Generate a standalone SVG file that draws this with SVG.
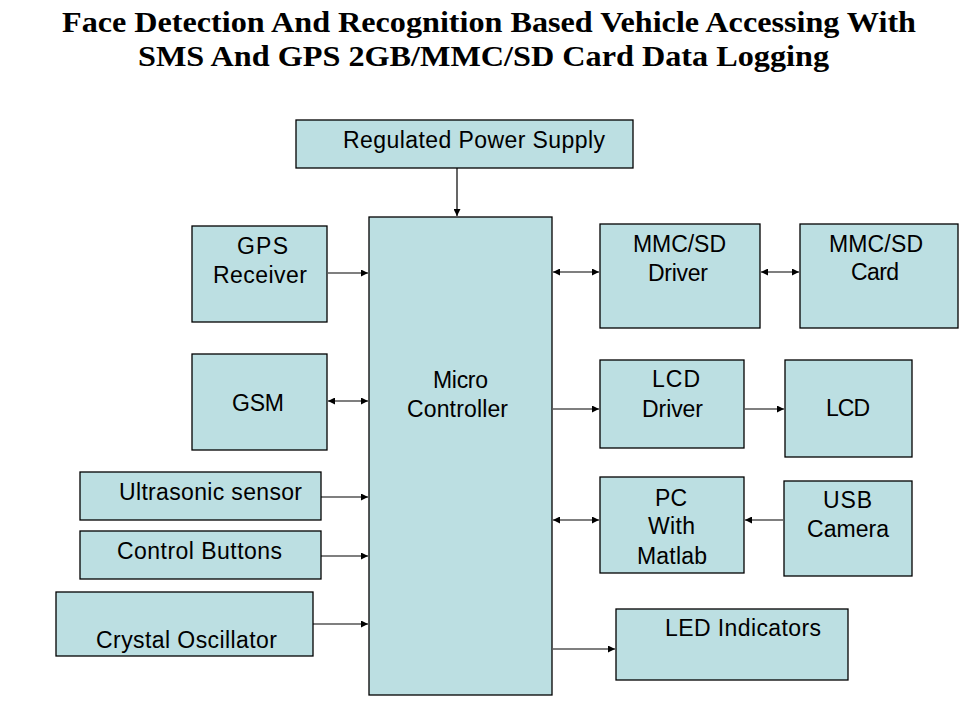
<svg xmlns="http://www.w3.org/2000/svg" width="960" height="720" viewBox="0 0 960 720">
<defs>
<style>
.box{fill:#BCDFE2;stroke:#000;stroke-width:1.3}
.t{font-family:"Liberation Sans",Arial,sans-serif;font-size:23px;fill:#000}
.title{font-family:"Liberation Serif","Times New Roman",serif;font-weight:bold;font-size:30px;fill:#000}
.c{stroke:#000;stroke-width:1.2;fill:none}
</style>
<marker id="ah" viewBox="0 0 10 10" refX="10" refY="5" markerWidth="8" markerHeight="7" markerUnits="userSpaceOnUse" orient="auto-start-reverse">
<path d="M0,0 L10,5 L0,10 z" fill="#000"/>
</marker>
</defs>
<rect width="960" height="720" fill="#fff"/>
<g id="title">
<text class="title" x="62" y="32" textLength="854" lengthAdjust="spacingAndGlyphs">Face Detection And Recognition Based Vehicle Accessing With</text>
<text class="title" x="138" y="66" textLength="691" lengthAdjust="spacingAndGlyphs">SMS And GPS 2GB/MMC/SD Card Data Logging</text>
</g>
<g id="power"><rect class="box" x="296" y="120" width="337" height="48"/>
<text class="t" x="343" y="148" textLength="262">Regulated Power Supply</text></g>
<g id="mcu"><rect class="box" x="369" y="217" width="183" height="478"/>
<text class="t" x="433" y="388" textLength="55">Micro</text>
<text class="t" x="407" y="417" textLength="101">Controller</text></g>
<g id="gps"><rect class="box" x="192" y="226" width="135" height="96"/>
<text class="t" x="237" y="254" textLength="51">GPS</text>
<text class="t" x="213" y="283" textLength="94">Receiver</text></g>
<g id="gsm"><rect class="box" x="192" y="354" width="135" height="96"/>
<text class="t" x="232" y="411" textLength="52">GSM</text></g>
<g id="ultrasonic"><rect class="box" x="80" y="472" width="241" height="48"/>
<text class="t" x="119" y="500" textLength="183">Ultrasonic sensor</text></g>
<g id="buttons"><rect class="box" x="80" y="531" width="241" height="48"/>
<text class="t" x="117" y="559" textLength="165">Control Buttons</text></g>
<g id="crystal"><rect class="box" x="56" y="592" width="257" height="64"/>
<text class="t" x="96" y="648" textLength="181">Crystal Oscillator</text></g>
<g id="mmcdriver"><rect class="box" x="600" y="224" width="160" height="104"/>
<text class="t" x="633" y="252" textLength="93">MMC/SD</text>
<text class="t" x="648" y="281" textLength="60">Driver</text></g>
<g id="mmccard"><rect class="box" x="800" y="224" width="158" height="104"/>
<text class="t" x="829" y="252" textLength="94">MMC/SD</text>
<text class="t" x="851" y="280" textLength="48">Card</text></g>
<g id="lcddriver"><rect class="box" x="600" y="360" width="144" height="88"/>
<text class="t" x="652" y="387" textLength="48">LCD</text>
<text class="t" x="642" y="417" textLength="61">Driver</text></g>
<g id="lcd"><rect class="box" x="785" y="360" width="127" height="97"/>
<text class="t" x="826" y="416" textLength="44">LCD</text></g>
<g id="pc"><rect class="box" x="600" y="477" width="144" height="96"/>
<text class="t" x="655" y="506" textLength="32">PC</text>
<text class="t" x="648" y="534" textLength="47">With</text>
<text class="t" x="637" y="564" textLength="70">Matlab</text></g>
<g id="usb"><rect class="box" x="784" y="481" width="128" height="95"/>
<text class="t" x="823" y="508" textLength="49">USB</text>
<text class="t" x="807" y="537" textLength="82">Camera</text></g>
<g id="led"><rect class="box" x="616" y="609" width="232" height="71"/>
<text class="t" x="665" y="636" textLength="156">LED Indicators</text></g>
<g id="connectors">
<line class="c" x1="457" y1="168" x2="457" y2="216" marker-end="url(#ah)"/>
<line class="c" x1="328" y1="273" x2="368" y2="273" marker-end="url(#ah)"/>
<line class="c" x1="328" y1="401" x2="368" y2="401" marker-start="url(#ah)" marker-end="url(#ah)"/>
<line class="c" x1="321" y1="497" x2="368" y2="497" marker-end="url(#ah)"/>
<line class="c" x1="321" y1="556" x2="368" y2="556" marker-end="url(#ah)"/>
<line class="c" x1="313" y1="624" x2="368" y2="624" marker-end="url(#ah)"/>
<line class="c" x1="553" y1="272" x2="599" y2="272" marker-start="url(#ah)" marker-end="url(#ah)"/>
<line class="c" x1="761" y1="272" x2="799" y2="272" marker-start="url(#ah)" marker-end="url(#ah)"/>
<line class="c" x1="553" y1="409" x2="599" y2="409" marker-end="url(#ah)"/>
<line class="c" x1="745" y1="409" x2="784" y2="409" marker-end="url(#ah)"/>
<line class="c" x1="553" y1="520" x2="599" y2="520" marker-start="url(#ah)" marker-end="url(#ah)"/>
<line class="c" x1="783" y1="520" x2="745" y2="520" marker-end="url(#ah)"/>
<line class="c" x1="553" y1="649" x2="615" y2="649" marker-end="url(#ah)"/>
</g>
</svg>
